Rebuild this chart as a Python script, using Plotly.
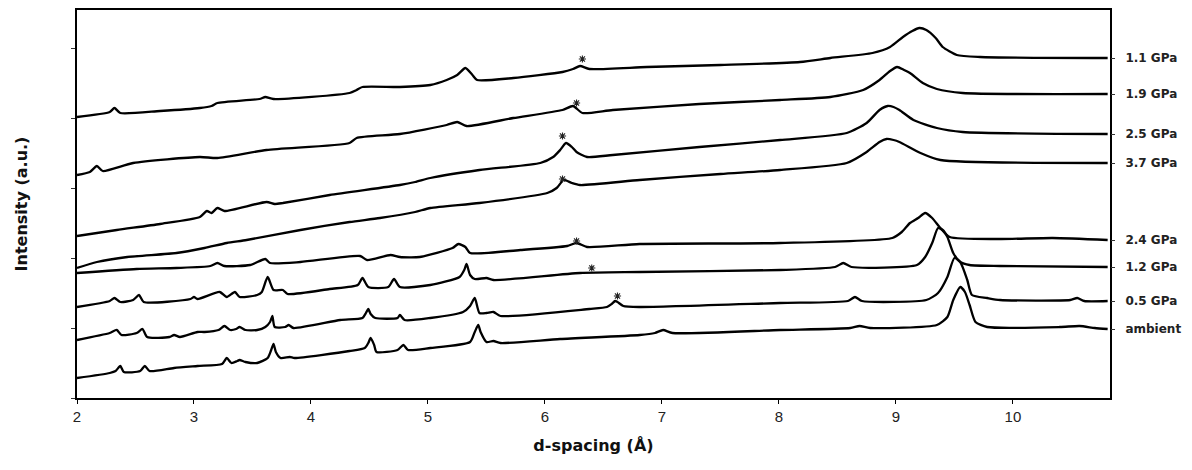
import plotly.graph_objects as go

# ---- data: d-spacing (Å) and stacked intensity (a.u.) ----
labels = ["1.1 GPa", "1.9 GPa", "2.5 GPa", "3.7 GPa", "2.4 GPa", "1.2 GPa", "0.5 GPa", "ambient"]
label_levels = [340, 304, 264, 235, 158, 131, 97, 69]

d_11 = [2.00, 2.28, 2.32, 2.37, 2.71, 3.05, 3.15, 3.20, 3.56, 3.61, 3.68, 4.33, 4.39, 4.44, 4.76, 5.02,
        5.16, 5.25, 5.32, 5.38, 5.42, 5.73, 6.15, 6.24, 6.30, 6.38, 6.87, 7.50, 8.18, 8.44, 8.80, 8.95,
        9.06, 9.14, 9.20, 9.26, 9.34, 9.40, 9.52, 9.72, 10.81]
i_11 = [281, 286, 290, 285, 287, 290, 292, 295, 299, 301, 299, 305, 308, 311, 311, 313,
        318, 323, 330, 323, 318, 320, 326, 329, 332, 329, 331, 333, 336, 340, 345, 351,
        361, 367, 370, 368, 360, 351, 343, 341, 340]

d_19 = [2.00, 2.11, 2.17, 2.22, 2.48, 3.05, 3.20, 3.62, 4.33, 4.39, 4.76, 5.16, 5.25, 5.33, 5.73, 6.15,
        6.24, 6.32, 6.58, 7.32, 8.01, 8.44, 8.72, 8.86, 8.95, 9.01, 9.07, 9.12, 9.23, 9.35, 9.57, 10.81]
i_19 = [223, 226, 232, 227, 235, 241, 240, 248, 255, 260, 264, 273, 276, 272, 280, 288,
        292, 285, 288, 294, 298, 301, 308, 318, 327, 331, 328, 325, 315, 309, 305, 304]

d_25 = [2.00, 2.34, 2.71, 3.05, 3.11, 3.15, 3.20, 3.26, 3.62, 3.69, 3.76, 4.16, 4.76, 4.89, 5.02, 5.44,
        5.96, 6.07, 6.13, 6.18, 6.23, 6.27, 6.36, 6.58, 7.32, 8.01, 8.58, 8.75, 8.86, 8.93, 8.98, 9.03,
        9.15, 9.35, 9.57, 10.81]
i_25 = [162, 168, 174, 181, 187, 185, 190, 187, 196, 194, 195, 203, 213, 216, 220, 228,
        235, 241, 248, 255, 251, 246, 241, 243, 251, 258, 265, 275, 288, 292, 291, 288,
        278, 270, 266, 264]

d_37 = [2.00, 2.17, 2.43, 2.85, 3.09, 3.28, 3.45, 3.91, 4.33, 4.59, 4.89, 5.02, 5.44, 6.02, 6.10, 6.16,
        6.23, 6.30, 6.81, 7.50, 8.01, 8.58, 8.75, 8.86, 8.92, 8.98, 9.03, 9.21, 9.38, 10.81]
i_37 = [130, 136, 141, 145, 150, 155, 158, 168, 176, 180, 186, 190, 195, 205, 210, 218,
        215, 213, 218, 224, 228, 235, 246, 256, 259, 258, 256, 245, 238, 235]

d_24 = [2.00, 2.51, 2.85, 3.14, 3.20, 3.26, 3.48, 3.61, 3.65, 3.91, 4.42, 4.48, 4.68, 4.76, 4.93, 5.21,
        5.26, 5.32, 5.36, 5.79, 6.19, 6.27, 6.36, 6.81, 8.01, 8.97, 9.05, 9.12, 9.19, 9.25, 9.31, 9.38,
        9.46, 9.89, 10.34, 10.81]
i_24 = [125, 129, 130, 132, 135, 132, 133, 139, 135, 136, 142, 138, 143, 141, 141, 150,
        154, 151, 145, 148, 152, 155, 151, 154, 155, 160, 166, 175, 180, 185, 180, 170,
        161, 159, 160, 158]

d_12 = [2.00, 2.28, 2.32, 2.37, 2.48, 2.53, 2.57, 2.97, 3.00, 3.03, 3.22, 3.28, 3.35, 3.39, 3.54, 3.58,
        3.63, 3.68, 3.76, 3.80, 4.16, 4.40, 4.44, 4.49, 4.66, 4.71, 4.76, 5.02, 5.27, 5.31, 5.33, 5.36,
        5.40, 5.50, 5.56, 6.30, 6.81, 8.01, 8.48, 8.55, 8.62, 9.18, 9.25, 9.31, 9.36, 9.40, 9.44, 9.49,
        9.55, 9.63, 9.89, 10.81]
i_12 = [91, 97, 100, 96, 98, 103, 96, 99, 101, 99, 106, 101, 106, 101, 103, 106,
        121, 108, 108, 104, 109, 113, 120, 111, 111, 119, 111, 113, 121, 128, 134, 123,
        119, 120, 118, 125, 126, 128, 131, 135, 131, 133, 141, 155, 170, 168, 161, 145,
        136, 133, 132, 131]

d_05 = [2.00, 2.28, 2.34, 2.38, 2.51, 2.56, 2.60, 2.79, 2.83, 2.88, 3.03, 3.09, 3.21, 3.26, 3.31, 3.36,
        3.39, 3.44, 3.54, 3.61, 3.65, 3.67, 3.69, 3.78, 3.81, 3.85, 4.25, 4.44, 4.47, 4.49, 4.51, 4.55,
        4.74, 4.76, 4.80, 5.02, 5.30, 5.36, 5.40, 5.44, 5.50, 5.56, 5.62, 6.38, 6.53, 6.57, 6.60, 6.62,
        6.67, 6.81, 8.01, 8.59, 8.65, 8.71, 9.26, 9.36, 9.44, 9.50, 9.55, 9.61, 9.65, 9.78, 9.89, 10.49,
        10.55, 10.61, 10.81]
i_05 = [58, 65, 68, 63, 65, 69, 61, 61, 63, 61, 66, 66, 68, 72, 68, 69,
        71, 68, 68, 71, 76, 82, 71, 71, 73, 70, 78, 80, 85, 89, 84, 80,
        80, 83, 78, 80, 86, 92, 100, 85, 85, 86, 82, 89, 91, 94, 97, 96,
        92, 91, 95, 97, 101, 97, 98, 105, 121, 140, 136, 118, 103, 100, 98, 98,
        100, 97, 97]

d_amb = [2.00, 2.28, 2.33, 2.37, 2.40, 2.54, 2.58, 2.62, 2.83, 3.03, 3.24, 3.28, 3.32, 3.37, 3.39, 3.44,
         3.54, 3.63, 3.66, 3.68, 3.70, 3.74, 3.82, 3.86, 4.33, 4.46, 4.49, 4.51, 4.54, 4.56, 4.74, 4.79,
         4.83, 5.02, 5.36, 5.40, 5.43, 5.45, 5.50, 5.56, 5.62, 6.13, 6.81, 6.94, 7.01, 7.09, 8.01, 8.61,
         8.69, 8.78, 9.35, 9.44, 9.49, 9.55, 9.59, 9.63, 9.68, 9.78, 10.40, 10.57, 10.70, 10.81]
i_amb = [20, 25, 27, 32, 26, 27, 32, 27, 30, 32, 34, 40, 35, 37, 38, 36,
         35, 40, 48, 54, 46, 40, 41, 40, 47, 50, 55, 60, 53, 46, 48, 53,
         48, 50, 56, 66, 73, 66, 56, 57, 55, 59, 63, 65, 68, 65, 68, 70,
         72, 70, 73, 81, 98, 111, 106, 93, 76, 71, 71, 72, 70, 69]

# asterisk-marked reflections
star_d = [6.32, 6.27, 6.15, 6.15, 6.27, 6.40, 6.62]
star_i = [339, 295, 262, 219, 157, 130, 102]

x_ticks = [2, 3, 4, 5, 6, 7, 8, 9, 10]

series = [(d_11, i_11), (d_19, i_19), (d_25, i_25), (d_37, i_37),
          (d_24, i_24), (d_12, i_12), (d_05, i_05), (d_amb, i_amb)]

FONT = "Liberation Sans, Arial, sans-serif"
BOLD = "DejaVu Sans, Arial, sans-serif"

fig = go.Figure()
for (dx, iy), name in zip(series, labels):
    fig.add_trace(go.Scatter(
        x=dx, y=iy, mode="lines", name=name, showlegend=False,
        line=dict(color="black", width=2.3, shape="spline", smoothing=0.6),
        hoverinfo="skip"))

fig.add_trace(go.Scatter(
    x=star_d, y=star_i, mode="markers", showlegend=False, hoverinfo="skip",
    marker=dict(symbol="asterisk-open", size=6, color="#222",
                line=dict(color="#222", width=1.1))))

# dummy trace to hold the right-hand label axis
fig.add_trace(go.Scatter(x=[None], y=[None], yaxis="y2", showlegend=False, hoverinfo="skip"))

fig.update_layout(
    width=1192, height=470,
    margin=dict(l=77, r=82, t=10, b=72),
    paper_bgcolor="white", plot_bgcolor="white",
    font=dict(family=FONT, color="#111"),
    xaxis=dict(
        range=[2, 10.83], tickvals=x_ticks, ticks="outside", ticklen=4, tickwidth=1.2,
        tickcolor="black", showline=True, mirror=True, linecolor="black", linewidth=1.6,
        showgrid=False, zeroline=False, automargin=False,
        tickfont=dict(family=FONT, size=15, color="#222"),
        title=dict(text="d-spacing (Å)", standoff=16,
                   font=dict(family=BOLD, size=16, weight="bold", color="#111")),
    ),
    yaxis=dict(
        range=[0, 388], tick0=0, dtick=70, ticks="outside", ticklen=4, tickwidth=1,
        tickcolor="#333", showticklabels=False, showline=True, mirror=True,
        linecolor="black", linewidth=1.6, showgrid=False, zeroline=False, automargin=False,
        title=dict(text="Intensity (a.u.)", standoff=40,
                   font=dict(family=BOLD, size=16, weight="bold", color="#111")),
    ),
    yaxis2=dict(
        overlaying="y", side="right", range=[0, 388], automargin=False,
        tickvals=label_levels, ticktext=labels, ticks="outside", ticklen=4,
        tickwidth=1, tickcolor="#333", showline=False, showgrid=False, zeroline=False,
        ticklabelstandoff=8,
        tickfont=dict(family=BOLD, size=12, weight="bold", color="#222"),
    ),
)

fig.write_html("out.html", config={"displayModeBar": False},
               post_script="document.body.style.margin='0';")
